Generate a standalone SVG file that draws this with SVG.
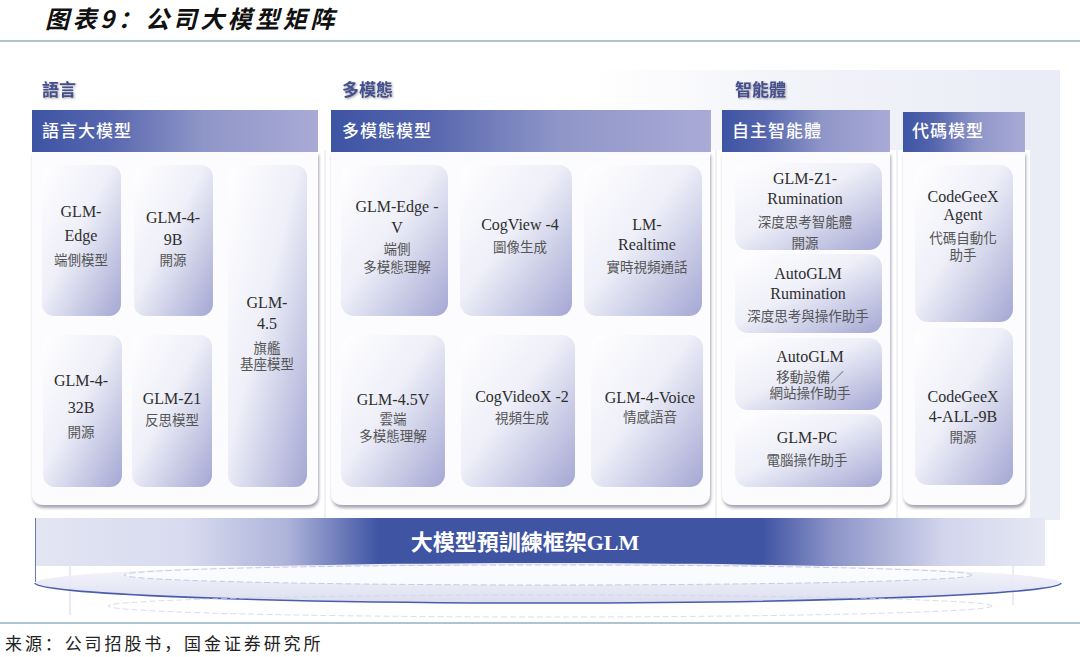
<svg xmlns="http://www.w3.org/2000/svg" width="1080" height="657" viewBox="0 0 1080 657">
<defs>
<style>
.ttl{font-family:"Noto Sans CJK SC",sans-serif;font-size:24px;font-style:italic;font-weight:bold;fill:#111;letter-spacing:3.5px}
.src{font-family:"Liberation Serif","Noto Sans CJK SC",serif;font-size:17px;fill:#222;letter-spacing:2.9px}
.sec{font-family:"Liberation Serif","Noto Sans CJK TC",serif;font-size:17px;font-weight:bold;fill:#45508f}
.hd{font-family:"Liberation Serif","Noto Sans CJK TC",serif;font-size:17px;font-weight:500;fill:#fff;letter-spacing:1px}
.en{font-family:"Liberation Serif",serif;font-size:16px;fill:#2e2e2e;text-anchor:middle}
.zh{font-family:"Liberation Serif","Noto Sans CJK TC",serif;font-size:13.5px;fill:#555;text-anchor:middle}
.card{fill:url(#cardG)}
.panel{fill:#fcfcfe;filter:url(#sh)}
.sep{stroke:#e2e3ec;stroke-width:1}
.big{font-family:"Liberation Serif","Noto Sans CJK TC",serif;font-size:22px;font-weight:bold;fill:#fff;text-anchor:middle}
</style>
<linearGradient id="cardG" x1="0" y1="0" x2="1" y2="1">
<stop offset="0" stop-color="#ffffff"/>
<stop offset="0.45" stop-color="#eeeff8"/>
<stop offset="1" stop-color="#a4a7d3"/>
</linearGradient>
<linearGradient id="hdG" x1="0" y1="0" x2="1" y2="0">
<stop offset="0" stop-color="#3d54a4"/>
<stop offset="0.25" stop-color="#5565ad"/>
<stop offset="0.6" stop-color="#8f96c8"/>
<stop offset="1" stop-color="#a9aad6"/>
</linearGradient>
<linearGradient id="bgG" x1="0" y1="0" x2="1" y2="0">
<stop offset="0" stop-color="#ffffff"/>
<stop offset="0.55" stop-color="#ffffff"/>
<stop offset="0.75" stop-color="#f2f3f9"/>
<stop offset="1" stop-color="#eaecf6"/>
</linearGradient>
<linearGradient id="bandG" x1="0" y1="0" x2="1" y2="0">
<stop offset="0" stop-color="#e3e5f3"/>
<stop offset="0.15" stop-color="#d8dbef"/>
<stop offset="0.25" stop-color="#aeb3da"/>
<stop offset="0.34" stop-color="#3f54a3"/>
<stop offset="0.72" stop-color="#3f54a3"/>
<stop offset="0.79" stop-color="#8d94c8"/>
<stop offset="0.9" stop-color="#d2d5ec"/>
<stop offset="1" stop-color="#e6e8f4"/>
</linearGradient>
<linearGradient id="ellG" x1="0" y1="0" x2="0" y2="1">
<stop offset="0" stop-color="#f6f7fc"/>
<stop offset="1" stop-color="#dadcef"/>
</linearGradient>
<linearGradient id="vlG" x1="0" y1="0" x2="0" y2="1">
<stop offset="0" stop-color="#3f54a3"/>
<stop offset="1" stop-color="#3f54a3" stop-opacity="0"/>
</linearGradient>
<filter id="sh" x="-5%" y="-5%" width="110%" height="115%">
<feDropShadow dx="1" dy="3" stdDeviation="1.5" flood-color="#5c5c78" flood-opacity="0.55"/>
</filter>
<filter id="tsh" x="-10%" y="-20%" width="120%" height="140%">
<feDropShadow dx="1" dy="1" stdDeviation="0.8" flood-color="#666" flood-opacity="0.6"/>
</filter>
</defs>

<rect width="1080" height="657" fill="#fff"/>

<!-- title -->
<text class="ttl" x="45" y="28">图表9：公司大模型矩阵</text>
<line x1="0" y1="41" x2="1080" y2="41" stroke="#5f8aa6" stroke-width="1.2"/>

<!-- background -->
<rect x="20" y="70" width="1040" height="450" fill="url(#bgG)"/>
<rect x="25" y="150" width="1005" height="368" fill="#ffffff"/>

<!-- decorative verticals -->
<g id="decor">
<line x1="17.5" y1="455" x2="17.5" y2="605" stroke="url(#vlG)" stroke-width="1.5"/>
<line x1="70" y1="518" x2="70" y2="615" stroke="#d3d6ec" stroke-width="1"/>
<line x1="1013" y1="518" x2="1013" y2="605" stroke="#d3d6ec" stroke-width="1"/>
<line x1="1047" y1="492" x2="1047" y2="615" stroke="url(#vlG)" stroke-width="2"/>
<line x1="1066" y1="468" x2="1066" y2="615" stroke="url(#vlG)" stroke-width="1.2"/>
</g>

<!-- platform -->
<g id="platform">
<rect x="35" y="518" width="1010" height="48" fill="url(#bandG)"/>
<line x1="35.5" y1="518" x2="35.5" y2="582" stroke="#6a78b8" stroke-width="1"/>
<ellipse cx="548" cy="583" rx="513" ry="20" fill="url(#ellG)" fill-opacity="0.92"/>
<path d="M35,583 A513,20 0 0 0 1061,583" fill="none" stroke="#4a5cab" stroke-width="1.6"/>
<ellipse cx="548" cy="575" rx="424" ry="10" fill="#fafbfe" stroke="#b9bde0" stroke-width="0.8" stroke-dasharray="6 3"/>
<ellipse cx="550" cy="606" rx="442" ry="11" fill="none" stroke="#cfd2ea" stroke-width="0.8" stroke-dasharray="6 3"/>
<text class="big" x="525" y="550">大模型預訓練框架GLM</text>
</g>

<!-- separators -->
<g id="separators">
<line class="sep" x1="325" y1="150" x2="325" y2="518"/>
<line class="sep" x1="716" y1="150" x2="716" y2="518"/>
<line class="sep" x1="897" y1="150" x2="897" y2="518"/>
</g>

<!-- section labels -->
<text class="sec" x="42" y="96" filter="url(#tsh)">語言</text>
<text class="sec" x="342" y="96" filter="url(#tsh)">多模態</text>
<text class="sec" x="735" y="96" filter="url(#tsh)">智能體</text>

<!-- Language panel -->
<g id="panel-language">
<path class="panel" d="M32,152 H318 V493 Q318,505 306,505 H44 Q32,505 32,493 Z"/>
<rect x="32" y="110" width="286" height="42" fill="url(#hdG)"/>
<text class="hd" x="42" y="137">語言大模型</text>
</g>
<g id="node-glm-edge">
<rect class="card" x="42" y="165" width="79" height="151" rx="12"/>
<text class="en" x="81" y="217">GLM-</text>
<text class="en" x="81" y="241">Edge</text>
<text class="zh" x="81" y="265">端側模型</text>
</g>
<g id="node-glm-4-9b">
<rect class="card" x="134" y="165" width="79" height="151" rx="12"/>
<text class="en" x="173" y="223">GLM-4-</text>
<text class="en" x="173" y="245">9B</text>
<text class="zh" x="173" y="265">開源</text>
</g>
<g id="node-glm-4-32b">
<rect class="card" x="43" y="335" width="79" height="152" rx="12"/>
<text class="en" x="81" y="386">GLM-4-</text>
<text class="en" x="81" y="413">32B</text>
<text class="zh" x="81" y="437">開源</text>
</g>
<g id="node-glm-z1">
<rect class="card" x="132" y="335" width="80" height="152" rx="12"/>
<text class="en" x="172" y="404">GLM-Z1</text>
<text class="zh" x="172" y="425">反思模型</text>
</g>
<g id="node-glm-4-5">
<rect class="card" x="228" y="165" width="79" height="322" rx="12"/>
<text class="en" x="267" y="308">GLM-</text>
<text class="en" x="267" y="329">4.5</text>
<text class="zh" x="267" y="353">旗艦</text>
<text class="zh" x="267" y="369">基座模型</text>
</g>

<!-- Multimodal panel -->
<g id="panel-multimodal">
<path class="panel" d="M331,152 H710 V493 Q710,505 698,505 H343 Q331,505 331,493 Z"/>
<rect x="331" y="110" width="380" height="42" fill="url(#hdG)"/>
<text class="hd" x="342" y="137">多模態模型</text>
</g>
<g id="node-glm-edge-v">
<rect class="card" x="341" y="165" width="107" height="151" rx="13"/>
<text class="en" x="397" y="212">GLM-Edge -</text>
<text class="en" x="397" y="233">V</text>
<text class="zh" x="397" y="254">端側</text>
<text class="zh" x="397" y="272">多模態理解</text>
</g>
<g id="node-cogview">
<rect class="card" x="460" y="165" width="112" height="151" rx="13"/>
<text class="en" x="520" y="230">CogView -4</text>
<text class="zh" x="520" y="252">圖像生成</text>
</g>
<g id="node-lm-realtime">
<rect class="card" x="584" y="165" width="118" height="151" rx="13"/>
<text class="en" x="647" y="230">LM-</text>
<text class="en" x="647" y="250">Realtime</text>
<text class="zh" x="647" y="272">實時視頻通話</text>
</g>
<g id="node-glm-4-5v">
<rect class="card" x="341" y="335" width="104" height="152" rx="13"/>
<text class="en" x="393" y="405">GLM-4.5V</text>
<text class="zh" x="393" y="424">雲端</text>
<text class="zh" x="393" y="441">多模態理解</text>
</g>
<g id="node-cogvideox">
<rect class="card" x="461" y="335" width="114" height="152" rx="13"/>
<text class="en" x="522" y="402">CogVideoX -2</text>
<text class="zh" x="522" y="423">視頻生成</text>
</g>
<g id="node-glm-4-voice">
<rect class="card" x="591" y="335" width="112" height="152" rx="13"/>
<text class="en" x="650" y="403">GLM-4-Voice</text>
<text class="zh" x="650" y="422">情感語音</text>
</g>

<!-- Agent panel -->
<g id="panel-agent">
<path class="panel" d="M722,152 H890 V493 Q890,505 878,505 H734 Q722,505 722,493 Z"/>
<rect x="722" y="110" width="168" height="42" fill="url(#hdG)"/>
<text class="hd" x="732" y="137">自主智能體</text>
</g>
<g id="node-glm-z1-rumination">
<rect class="card" x="735" y="163" width="147" height="87" rx="13"/>
<text class="en" x="805" y="184">GLM-Z1-</text>
<text class="en" x="805" y="204">Rumination</text>
<text class="zh" x="805" y="227">深度思考智能體</text>
<text class="zh" x="805" y="248">開源</text>
</g>
<g id="node-autoglm-rumination">
<rect class="card" x="735" y="254" width="147" height="79" rx="13"/>
<text class="en" x="808" y="279">AutoGLM</text>
<text class="en" x="808" y="299">Rumination</text>
<text class="zh" x="808" y="321">深度思考與操作助手</text>
</g>
<g id="node-autoglm">
<rect class="card" x="735" y="338" width="147" height="72" rx="13"/>
<text class="en" x="810" y="362">AutoGLM</text>
<text class="zh" x="810" y="382">移動設備／</text>
<text class="zh" x="810" y="398">網站操作助手</text>
</g>
<g id="node-glm-pc">
<rect class="card" x="735" y="414" width="147" height="73" rx="13"/>
<text class="en" x="807" y="443">GLM-PC</text>
<text class="zh" x="807" y="465">電腦操作助手</text>
</g>

<!-- Code panel -->
<g id="panel-code">
<path class="panel" d="M903,152 H1025 V493 Q1025,505 1013,505 H915 Q903,505 903,493 Z"/>
<rect x="903" y="112" width="122" height="40" fill="url(#hdG)"/>
<text class="hd" x="912" y="137">代碼模型</text>
</g>
<g id="node-codegeex-agent">
<rect class="card" x="915" y="165" width="98" height="157" rx="13"/>
<text class="en" x="963" y="202">CodeGeeX</text>
<text class="en" x="963" y="220">Agent</text>
<text class="zh" x="963" y="243">代碼自動化</text>
<text class="zh" x="963" y="260">助手</text>
</g>
<g id="node-codegeex-4">
<rect class="card" x="915" y="328" width="98" height="157" rx="13"/>
<text class="en" x="963" y="402">CodeGeeX</text>
<text class="en" x="963" y="422">4-ALL-9B</text>
<text class="zh" x="963" y="442">開源</text>
</g>

<!-- footer -->
<line x1="0" y1="623" x2="1080" y2="623" stroke="#5f8aa6" stroke-width="1.2"/>
<text class="src" x="5" y="650">来源：公司招股书，国金证券研究所</text>
</svg>
